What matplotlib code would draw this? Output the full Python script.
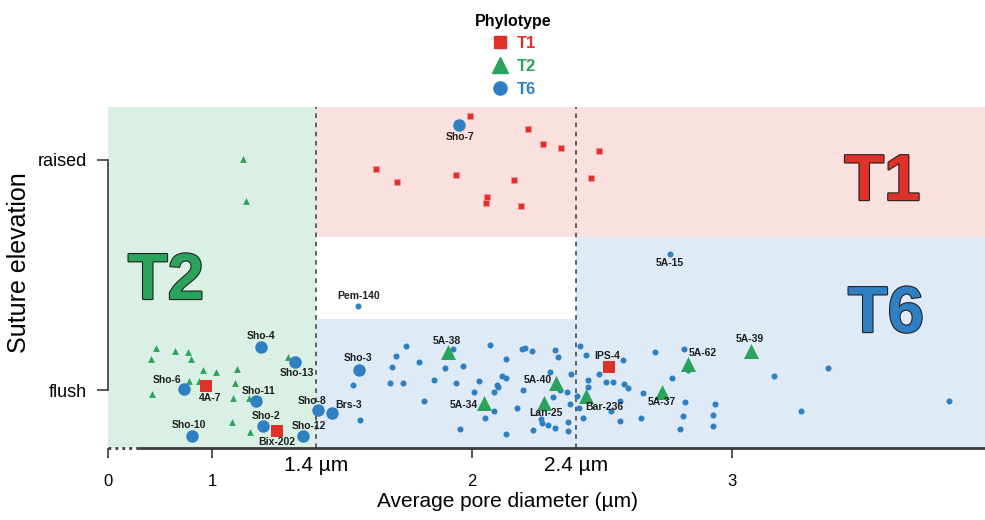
import matplotlib
matplotlib.use('Agg')
import matplotlib.pyplot as plt
import matplotlib.patheffects as pe
from matplotlib.lines import Line2D

plt.rcParams['font.family'] = ['Liberation Sans', 'DejaVu Sans']

# Colours
RED = '#E0302A'
GREEN = '#2BA35A'
BLUE = '#2F80C2'
BG_T2 = '#DAF0E5'
BG_T1 = '#FBE0E0'
BG_T6 = '#DEEBF6'
INK = '#1E1E1E'
AXIS = '#3A3A3A'

# Phylotype boundaries (pore diameter in um, suture elevation score)
PORE_LO = 1.4
PORE_HI = 2.4
T1_FLOOR = 0.665
T6_MID_CEIL = 0.309

# ---------------------------------------------------------------------------
# Data: unlabeled samples
# ---------------------------------------------------------------------------
t1_x = [1.993, 2.215, 2.274, 2.341, 2.487, 1.630, 1.713, 1.938, 2.163, 2.459,
        2.057, 2.053, 2.190]
t1_y = [1.193, 1.133, 1.071, 1.052, 1.038, 0.962, 0.903, 0.933, 0.913, 0.920,
        0.840, 0.814, 0.801]

t2_x = [0.785, 0.858, 0.908, 0.765, 0.919, 0.965, 1.015, 1.096, 0.912, 0.950,
        1.088, 0.769, 1.081, 1.142, 1.077, 1.146, 1.292, 1.119, 1.131]
t2_y = [0.183, 0.170, 0.165, 0.135, 0.135, 0.087, 0.078, 0.091, 0.039, 0.039,
        0.030, -0.017, -0.035, -0.035, -0.139, -0.183, 0.143, 1.004, 0.822]

t6_x = [1.745, 1.708, 1.693, 1.796, 1.685, 1.736, 1.543, 1.569, 1.814, 1.853,
        1.896, 1.928, 1.964, 1.940, 1.955, 2.009, 2.027, 2.068, 2.049, 2.083,
        2.085, 2.095, 2.100, 2.115, 2.132, 2.130, 2.130, 2.174, 2.196, 2.193,
        2.204, 2.230, 2.233, 2.264, 2.269, 2.292, 2.318, 2.299, 2.318, 2.330,
        2.338, 2.313, 2.365, 2.376, 2.369, 2.368, 2.381, 2.414, 2.438, 2.487,
        2.446, 2.515, 2.541, 2.580, 2.583, 2.599, 2.658, 2.703, 2.568, 2.533,
        2.570, 2.650, 2.426, 2.413, 2.404, 2.445, 2.769, 2.817, 2.830, 2.820,
        2.812, 2.800, 2.936, 2.926, 2.927, 3.162, 3.265, 3.368, 3.833]
t6_y = [0.193, 0.149, 0.099, 0.123, 0.029, 0.032, 0.023, -0.129, -0.047, 0.042,
        0.094, 0.180, 0.106, 0.032, -0.168, -0.007, 0.039, 0.194, -0.120, -0.091,
        -0.010, 0.020, 0.012, 0.062, 0.051, 0.135, -0.190, -0.078, 0.001, 0.180,
        0.184, 0.171, -0.173, -0.127, -0.142, -0.151, -0.165, 0.080, 0.173, 0.145,
        0.000, -0.029, -0.010, -0.062, -0.140, -0.178, 0.071, 0.193, 0.153, 0.070,
        0.042, 0.033, 0.036, 0.129, 0.026, 0.007, -0.014, 0.164, -0.047, -0.090,
        -0.136, -0.120, -0.123, -0.077, -0.026, 0.012, 0.051, 0.180, 0.087, -0.053,
        -0.114, -0.171, -0.061, -0.110, -0.155, 0.060, -0.093, 0.094, -0.048]

# Labeled small T6 samples
tag_names = ['Pem-140', '5A-15']
tag_x = [1.562, 2.762]
tag_y = [0.367, 0.591]

# Labeled (highlighted) strains
named = ['Sho-4', 'Sho-13', 'Sho-6', 'Sho-11', 'Sho-8', 'Brs-3', 'Sho-2',
         'Sho-12', 'Sho-10', 'Sho-3', 'Sho-7',
         '4A-7', 'Bix-202', 'IPS-4',
         '5A-38', '5A-34', '5A-40', 'Lan-25', 'Bar-236', '5A-62', '5A-37',
         '5A-39']
named_x = [1.188, 1.319, 0.892, 1.169, 1.408, 1.462, 1.196, 1.350, 0.923,
           1.567, 1.951,
           0.977, 1.250, 2.526,
           1.907, 2.047, 2.322, 2.276, 2.438, 2.830, 2.731, 3.072]
named_y = [0.187, 0.122, 0.004, -0.048, -0.087, -0.100, -0.157, -0.200,
           -0.200, 0.087, 1.152,
           0.017, -0.178, 0.101,
           0.164, -0.055, 0.032, -0.055, -0.026, 0.113, -0.007, 0.171]
named_type = ['T6'] * 11 + ['T1'] * 3 + ['T2'] * 8

# label offsets in points (layout only)
label_offset = {
    'Sho-4': (0, 8), 'Sho-13': (1.5, -8), 'Sho-6': (-12, 6.5),
    'Sho-11': (2, 7), 'Sho-8': (-4, 6.5), 'Brs-3': (11.5, 6),
    'Sho-2': (2, 7), 'Sho-12': (4.5, 7), 'Sho-10': (-2, 8),
    'Sho-3': (-1, 8.5), 'Sho-7': (0.7, -8.4), '4A-7': (3, -8.6),
    'Bix-202': (0, -8), 'IPS-4': (-1.4, 8), '5A-38': (-0.7, 8.4),
    '5A-34': (-15, -1.6), '5A-40': (-13, 2), 'Lan-25': (1.4, -7.2),
    'Bar-236': (13, -8), '5A-62': (11, 7.7), '5A-37': (0, -7.6),
    '5A-39': (-0.5, 8.4), 'Pem-140': (0, 7), '5A-15': (0, -6.7),
}

style = {'T1': ('s', RED, 63), 'T2': ('^', GREEN, 117), 'T6': ('o', BLUE, 81)}

# ---------------------------------------------------------------------------
# Figure
# ---------------------------------------------------------------------------
fig = plt.figure(figsize=(9.85, 5.2), dpi=100)
ax = fig.add_axes([108 / 985, 72 / 520, 877 / 985, 341 / 520])
XMIN, XMAX = 0.6, 3.973
YMIN, YMAX = -0.252, 1.230
ax.set_xlim(XMIN, XMAX)
ax.set_ylim(YMIN, YMAX)

# phylotype zones
ax.axvspan(XMIN, PORE_LO, color=BG_T2, lw=0, zorder=0)
ax.fill_between([PORE_LO, XMAX], T1_FLOOR, YMAX, color=BG_T1, lw=0, zorder=0)
ax.fill_between([PORE_LO, PORE_HI], YMIN, T6_MID_CEIL, color=BG_T6, lw=0, zorder=0)
ax.fill_between([PORE_HI, XMAX], YMIN, T1_FLOOR, color=BG_T6, lw=0, zorder=0)

for xv in (PORE_LO, PORE_HI):
    ax.axvline(xv, color=AXIS, lw=1.1, ls=(0, (3, 3)), zorder=1)

# unlabeled samples
ax.scatter(t6_x, t6_y, s=19, marker='o', color=BLUE, lw=0, zorder=3)
ax.scatter(tag_x, tag_y, s=19, marker='o', color=BLUE, lw=0, zorder=3)
ax.scatter(t1_x, t1_y, s=19, marker='s', color=RED, edgecolor='#F29A96',
           lw=0.4, zorder=3)
ax.scatter(t2_x, t2_y, s=24, marker='^', color=GREEN, lw=0, zorder=3)

# highlighted strains
for name, x, y, kind in zip(named, named_x, named_y, named_type):
    m, c, s = style[kind]
    ax.scatter([x], [y], s=s, marker=m, color=c, lw=0, zorder=4)

for name, x, y in list(zip(named, named_x, named_y)) + list(zip(tag_names, tag_x, tag_y)):
    dx, dy = label_offset[name]
    ax.annotate(name, (x, y), xytext=(dx, dy), textcoords='offset points',
                ha='center', va='center', fontsize=7.5, fontweight='bold',
                color=INK, zorder=5)

# zone titles
outline = [pe.withStroke(linewidth=1.6, foreground='#222222')]
for txt, c, xa, ya in [('T1', RED, 0.883, 0.727), ('T6', BLUE, 0.887, 0.340),
                       ('T2', GREEN, 0.066, 0.437)]:
    ax.text(xa, ya, txt, transform=ax.transAxes, ha='center', va='baseline',
            fontsize=47, fontweight='bold', color=c, path_effects=outline,
            zorder=2)

# axes
for side in ('top', 'right'):
    ax.spines[side].set_visible(False)
ax.spines['left'].set_bounds(0, 1)
ax.spines['left'].set_color(AXIS)
ax.spines['left'].set_linewidth(1.2)
ax.spines['bottom'].set_bounds(0.723, XMAX)
ax.spines['bottom'].set_color(AXIS)
ax.spines['bottom'].set_linewidth(2)
ax.spines['bottom'].set_zorder(6)
# axis break near zero
ax.plot([XMIN, 0.723], [0, 0], transform=ax.get_xaxis_transform(),
        color=AXIS, lw=2, ls=(0, (1, 1.5)), clip_on=False, zorder=6)

ax.set_xticks([XMIN, 1, 2, 3], ['0', '1', '2', '3'])
ax.set_yticks([0, 1], ['flush', 'raised'])
ax.tick_params(axis='x', length=7, width=1.2, color=AXIS, pad=12,
               labelsize=12)
ax.tick_params(axis='y', length=8, width=1.2, color=AXIS, pad=7,
               labelsize=13)

for xv in (PORE_LO, PORE_HI):
    ax.annotate(f'{xv} µm', (xv, 0), xycoords=ax.get_xaxis_transform(),
                xytext=(0, -12.5), textcoords='offset points',
                ha='center', va='center', fontsize=15)

ax.set_xlabel('Average pore diameter (µm)', fontsize=15)
ax.xaxis.set_label_coords(0.455, -0.128)
ax.set_ylabel('Suture elevation', fontsize=18)
ax.yaxis.set_label_coords(-0.088, 0.545)

# legend
handles = [Line2D([], [], marker='s', ls='none', color=RED, markersize=8),
           Line2D([], [], marker='^', ls='none', color=GREEN, markersize=11),
           Line2D([], [], marker='o', ls='none', color=BLUE, markersize=9.5)]
leg = fig.legend(handles, ['T1', 'T2', 'T6'], title='Phylotype',
                 loc='upper center', bbox_to_anchor=(513 / 985, 0.993),
                 frameon=False, fontsize=12, handlelength=1.2,
                 handletextpad=0.45, labelspacing=0.46, borderaxespad=0.2,
                 title_fontproperties={'weight': 'bold', 'size': 11.5})
for t, c in zip(leg.get_texts(), (RED, GREEN, BLUE)):
    t.set_color(c)
    t.set_fontweight('bold')

fig.savefig('out.png', dpi=100)
